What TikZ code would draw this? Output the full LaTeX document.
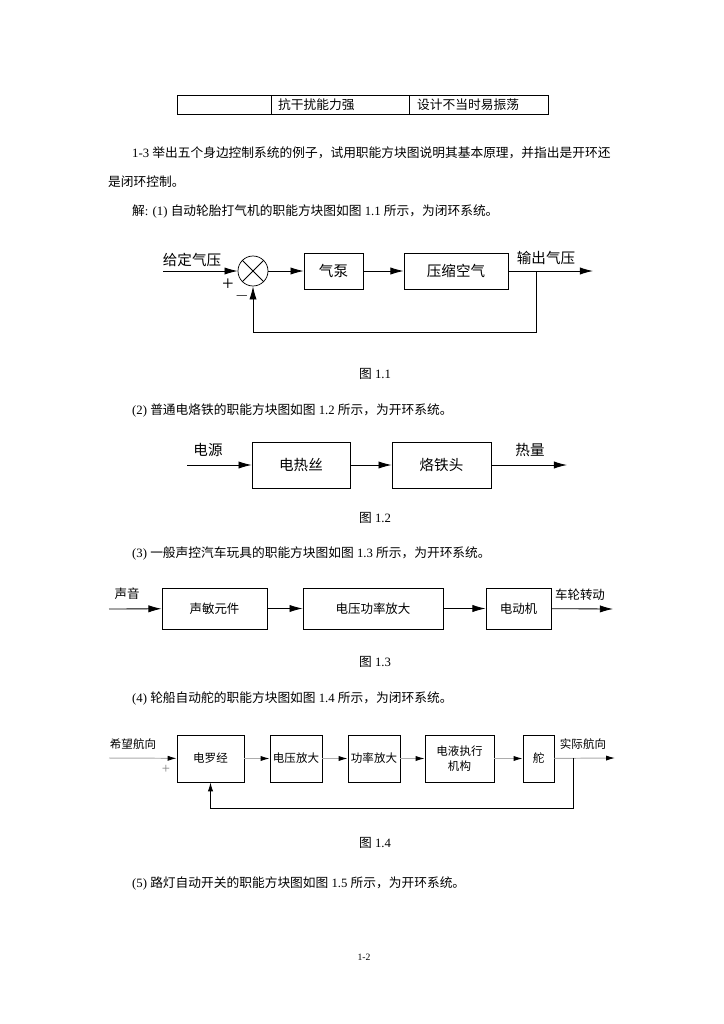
\documentclass[tikz,border=0pt]{standalone}
\usepackage{fontspec}
\setmainfont{Liberation Serif}
\newfontfamily\cjk{Noto Sans CJK SC}
\usetikzlibrary{arrows.meta}
\newcommand\bodysz{\fontsize{10.5pt}{13pt}\selectfont}

\begin{document}
\begin{tikzpicture}[x=0.29mm, y=-0.29mm,
      box/.style={rectangle, draw, line width=0.6pt, align=center,
                  inner sep=1pt, font=\cjk\fontsize{12pt}{14pt}\selectfont},
      sbox/.style={box, font=\cjk\fontsize{10.3pt}{12pt}\selectfont},
      tbox/.style={box, font=\cjk\fontsize{9.5pt}{12pt}\selectfont},
      sumc/.style={circle, draw, line width=0.6pt, minimum size=8.7mm, inner sep=0pt},
      arr/.style={-{Latex[length=3.8mm, width=2.1mm]}, line width=0.7pt},
      sarr/.style={-{Latex[length=2.6mm, width=1.5mm, color=black]}, line width=0.8pt, gray!65},
      lbl/.style={inner sep=0pt, font=\cjk\fontsize{12pt}{14pt}\selectfont},
      body/.style={inner sep=0pt, anchor=west, font=\bodysz},
      figcap/.style={inner sep=0pt, font=\bodysz}
    ]
    \useasboundingbox (0,0) rectangle (724,1024);
    \fill[white] (0,0) rectangle (724,1024);

    %--- table row ---
    \draw[line width=0.6pt] (177,95) rectangle (548,114);
    \draw[line width=0.6pt] (271,95) -- (271,114) (409,95) -- (409,114);
    \node[body, font=\cjk\bodysz] (t1) at (278,105) {抗干扰能力强};
    \node[body, font=\cjk\bodysz] (t2) at (417,105) {设计不当时易振荡};

    %--- question text ---
    \node[body] (q1) at (132,153) {1-3 {\cjk 举出五个身边控制系统的例子，试用职能方块图说明其基本原理，并指出是开环还}};
    \node[body] (q2) at (108,182) {{\cjk 是闭环控制。}};
    \node[body] (a1) at (132,211) {{\cjk 解}: (1) {\cjk 自动轮胎打气机的职能方块图如图} 1.1 {\cjk 所示，为闭环系统。}};

    %--- Fig 1.1 ---
    \coordinate (in1) at (163,271);
    \node[sumc] (sum) at (253,271) {};
    \draw[line width=0.6pt] (sum.north west) -- (sum.south east)
                            (sum.north east) -- (sum.south west);
    \node[box, minimum width=17.1mm, minimum height=10.4mm] (pump) at (333.5,271) {气泵};
    \node[box, minimum width=30.2mm, minimum height=10.4mm] (air) at (456,271) {压缩空气};
    \coordinate (out1) at (593,271);
    \coordinate (br1) at (536,271);
    \draw[arr] (in1) -- (sum);
    \draw[arr] (sum) -- (pump);
    \draw[arr] (pump) -- (air);
    \draw[arr] (air) -- (out1);
    \draw[arr] (br1) -- (536,332) -| (sum);
    \node[lbl] (l11) at (192,260) {给定气压};
    \node[lbl] (l12) at (546,258) {输出气压};
    \node[inner sep=0pt, font=\fontsize{17pt}{18pt}\selectfont] (plus1) at (228,285) {+};
    \node[inner sep=0pt, font=\fontsize{15pt}{16pt}\selectfont] (minus1) at (242,296) {$-$};
    \node[figcap] (c1) at (375,374) {{\cjk 图} 1.1};

    %--- Fig 1.2 ---
    \node[body] (a2) at (132,410) {(2) {\cjk 普通电烙铁的职能方块图如图} 1.2 {\cjk 所示，为开环系统。}};
    \coordinate (in2) at (187,465);
    \node[box, minimum width=28.4mm, minimum height=13.3mm] (wire) at (301,465) {电热丝};
    \node[box, minimum width=28.7mm, minimum height=13.3mm] (tip) at (441.5,465) {烙铁头};
    \coordinate (out2) at (567,465);
    \draw[arr] (in2) -- (wire);
    \draw[arr] (wire) -- (tip);
    \draw[arr] (tip) -- (out2);
    \node[lbl] (l21) at (208,450) {电源};
    \node[lbl] (l22) at (530,450) {热量};
    \node[figcap] (c2) at (375,518) {{\cjk 图} 1.2};

    %--- Fig 1.3 ---
    \node[body] (a3) at (132,553) {(3) {\cjk 一般声控汽车玩具的职能方块图如图} 1.3 {\cjk 所示，为开环系统。}};
    \coordinate (in3) at (109,609);
    \node[sbox, minimum width=30.5mm, minimum height=11.9mm] (sens) at (214.5,608.5) {声敏元件};
    \node[sbox, minimum width=40.6mm, minimum height=11.9mm] (amp) at (373,608.5) {电压功率放大};
    \node[sbox, minimum width=18.9mm, minimum height=11.9mm] (motor) at (518.5,608.5) {电动机};
    \coordinate (out3) at (613,609);
    \draw[arr] (in3) -- (sens);
    \draw[arr] (sens) -- (amp);
    \draw[arr] (amp) -- (motor);
    \draw[arr] (motor) -- (out3);
    \node[lbl, font=\cjk\fontsize{10.3pt}{12pt}\selectfont] (l31) at (127,594) {声音};
    \node[lbl, font=\cjk\fontsize{10.3pt}{12pt}\selectfont] (l32) at (580,595) {车轮转动};
    \node[figcap] (c3) at (375,662) {{\cjk 图} 1.3};

    %--- Fig 1.4 ---
    \node[body] (a4) at (132,698) {(4) {\cjk 轮船自动舵的职能方块图如图} 1.4 {\cjk 所示，为闭环系统。}};
    \coordinate (in4) at (109,758);
    \node[tbox, minimum width=19.4mm, minimum height=13.6mm] (gyro) at (210.5,758.5) {电罗经};
    \node[tbox, minimum width=15.1mm, minimum height=13.6mm] (vamp) at (296,758.5) {电压放大};
    \node[tbox, minimum width=15.1mm, minimum height=13.6mm] (pamp) at (374,758.5) {功率放大};
    \node[tbox, minimum width=20mm, minimum height=13.6mm] (hyd) at (459.5,758.5) {电液执行\\机构};
    \node[tbox, minimum width=9mm, minimum height=13.6mm] (rud) at (538.5,758.5) {舵};
    \coordinate (out4) at (615,758);
    \coordinate (br4) at (573,758);
    \draw[sarr] (in4) -- (gyro);
    \draw[sarr] (gyro) -- (vamp);
    \draw[sarr] (vamp) -- (pamp);
    \draw[sarr] (pamp) -- (hyd);
    \draw[sarr] (hyd) -- (rud);
    \draw[sarr] (rud) -- (out4);
    \draw[-{Latex[length=2.6mm, width=1.5mm]}, line width=0.7pt] (br4) -- (573,808) -| (gyro);
    \node[lbl, font=\cjk\fontsize{9.5pt}{12pt}\selectfont] (l41) at (133,744) {希望航向};
    \node[lbl, font=\cjk\fontsize{9.5pt}{12pt}\selectfont] (l42) at (583,744) {实际航向};
    \node[inner sep=0pt, font=\fontsize{12pt}{12pt}\selectfont, gray] (plus4) at (166,769) {+};
    \node[figcap] (c4) at (375,843) {{\cjk 图} 1.4};

    %--- Fig 1.5 text ---
    \node[body] (a5) at (132,883) {(5) {\cjk 路灯自动开关的职能方块图如图} 1.5 {\cjk 所示，为开环系统。}};

    \node[figcap, font=\fontsize{8pt}{10pt}\selectfont] (pg) at (364,957) {1-2};
  \end{tikzpicture}
\end{document}
